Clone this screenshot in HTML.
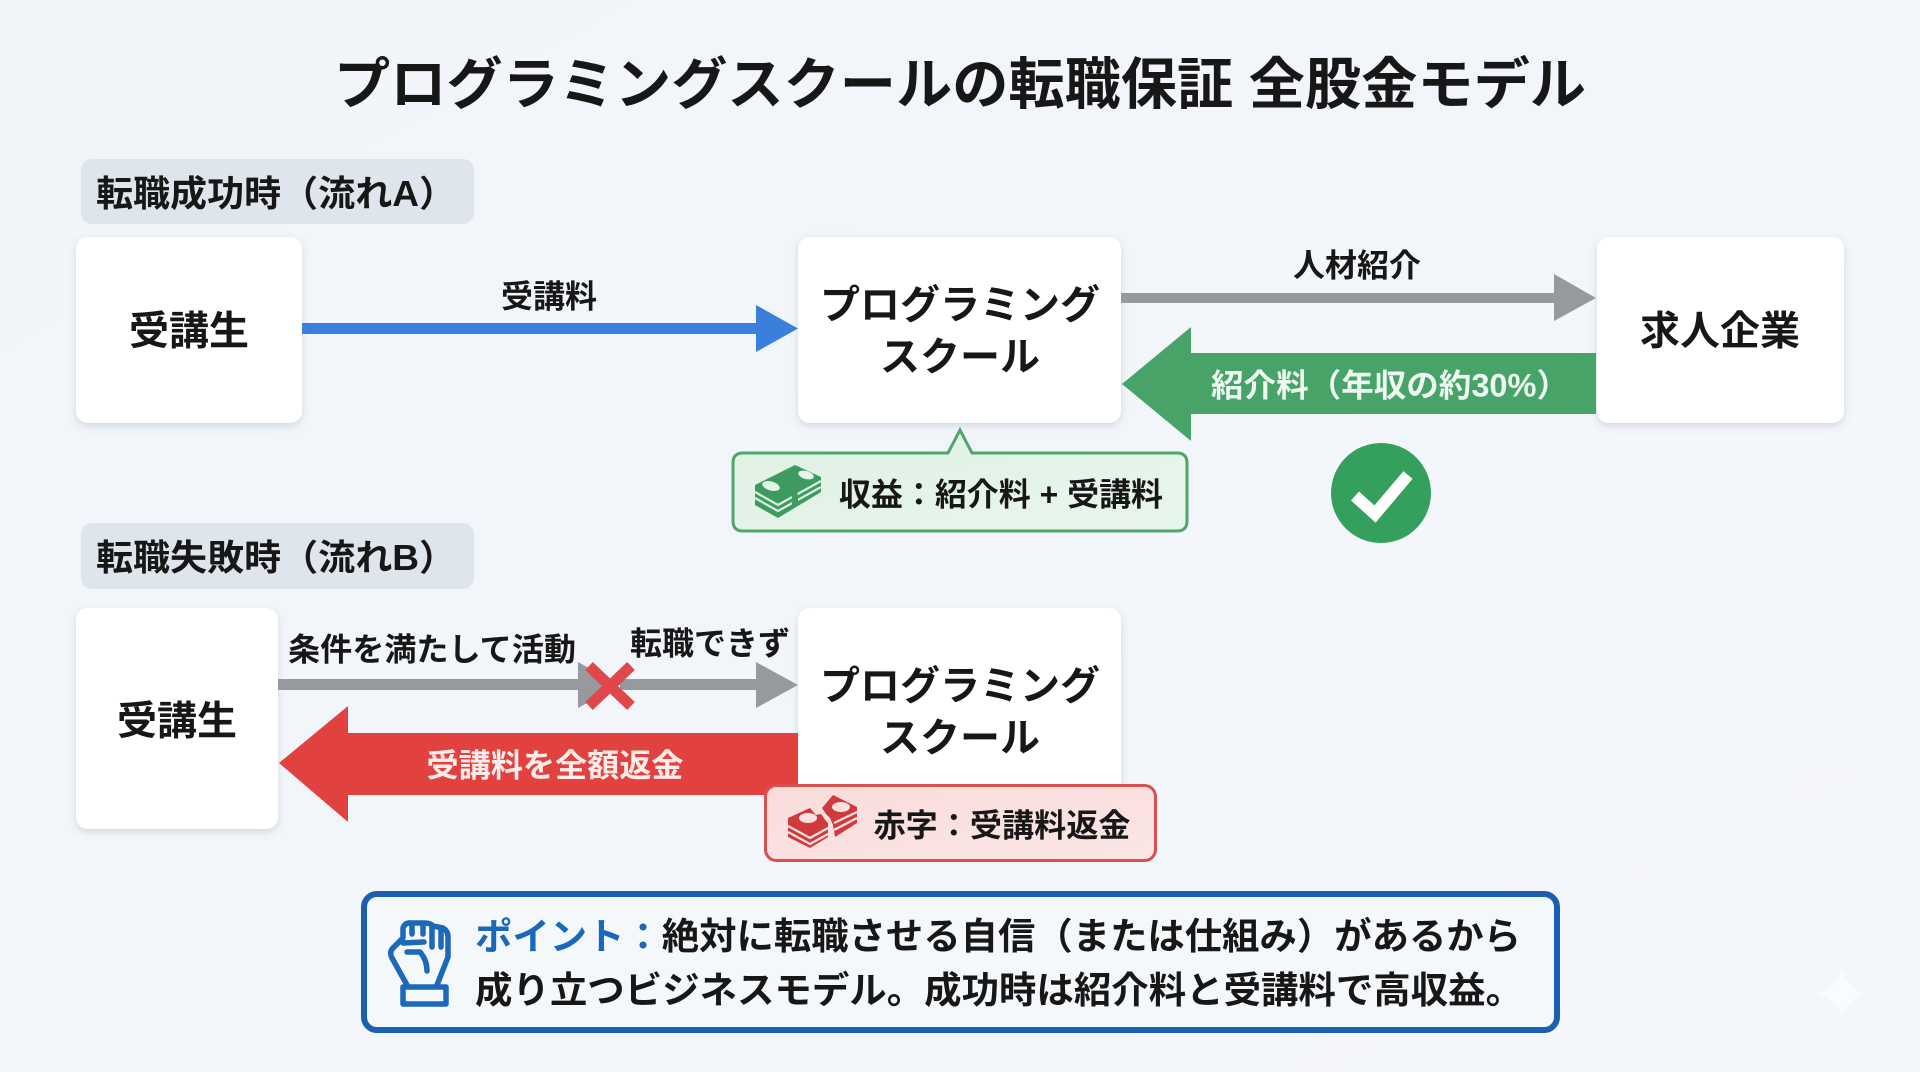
<!DOCTYPE html>
<html lang="ja"><head><meta charset="utf-8"><title>転職保証 全股金モデル</title>
<style>
html,body{margin:0;padding:0;width:1920px;height:1072px;overflow:hidden;background:#f2f6fa}
svg{display:block}
text{font-family:"Liberation Sans","Noto Sans CJK JP",sans-serif;font-weight:700;fill:#171717;text-anchor:middle;dominant-baseline:central;transform:translateY(1.5px)}
</style></head><body>
<svg width="1920" height="1072" viewBox="0 0 1920 1072" xmlns="http://www.w3.org/2000/svg">
<defs>
<linearGradient id="bg" x1="0" y1="0" x2="1" y2="1"><stop offset="0" stop-color="#f1f5fa"/><stop offset="1" stop-color="#f4f7fa"/></linearGradient>
<filter id="sh" x="-10%" y="-10%" width="120%" height="125%"><feDropShadow dx="0" dy="3" stdDeviation="4" flood-color="#5a6a80" flood-opacity=".22"/></filter>
<linearGradient id="gf" x1="0" y1="0" x2="1" y2="1"><stop offset="0" stop-color="#dff1e3"/><stop offset="1" stop-color="#e9f5ec"/></linearGradient>
<linearGradient id="rf" x1="0" y1="0" x2="1" y2="1"><stop offset="0" stop-color="#f9dcdb"/><stop offset="1" stop-color="#fbe6e5"/></linearGradient>
</defs>
<rect width="1920" height="1072" fill="url(#bg)"/>

<text x="960" y="83" font-size="56" textLength="1252" lengthAdjust="spacingAndGlyphs">プログラミングスクールの転職保証 全股金モデル</text>

<!-- Section labels -->
<rect x="81" y="159" width="393" height="65" rx="11" fill="#dfe5ec"/>
<text x="276" y="192" font-size="36" fill="#222" textLength="360" lengthAdjust="spacingAndGlyphs">転職成功時（流れA）</text>
<rect x="81" y="523" width="393" height="66" rx="11" fill="#dfe5ec"/>
<text x="276" y="556" font-size="36" textLength="360" lengthAdjust="spacingAndGlyphs">転職失敗時（流れB）</text>

<!-- Flow A nodes -->
<rect x="76" y="237" width="226" height="186" rx="12" fill="#fff" filter="url(#sh)"/>
<rect x="798" y="237" width="323" height="186" rx="12" fill="#fff" filter="url(#sh)"/>
<rect x="1597" y="237" width="247" height="186" rx="12" fill="#fff" filter="url(#sh)"/>
<text x="189" y="330" font-size="40">受講生</text>
<text x="960" y="304" font-size="40">プログラミング</text>
<text x="960" y="356" font-size="40">スクール</text>
<text x="1720" y="330" font-size="40">求人企業</text>

<!-- Flow A arrows -->
<polygon points="302,323 756,323 756,305 798,328.5 756,352 756,334 302,334" fill="#3a7fdc"/>
<text x="549" y="295" font-size="32" textLength="96" lengthAdjust="spacingAndGlyphs">受講料</text>
<polygon points="1121,293 1554,293 1554,274 1596,298 1554,321 1554,303 1121,303" fill="#969a9e"/>
<text x="1357" y="264" font-size="32" textLength="128" lengthAdjust="spacingAndGlyphs">人材紹介</text>
<polygon points="1122,384 1191,327 1191,353 1596,353 1596,414 1191,414 1191,441" fill="#47a368"/>
<text x="1390" y="384" font-size="32" style="fill:#eef8f0" textLength="358" lengthAdjust="spacingAndGlyphs">紹介料（年収の約30%）</text>

<!-- Green callout -->
<path d="M743 453 H948 L960 430 L972 453 H1177 Q1187 453 1187 463 V521 Q1187 531 1177 531 H743 Q733 531 733 521 V463 Q733 453 743 453 Z" fill="url(#gf)" stroke="#4fa76c" stroke-width="3"/>
<polygon points="755,485 795,465 821,477 821,492 778,518 755,505" fill="#3e9b5f"/>
<g fill="none" stroke="#dff1e3" stroke-width="2.2">
<polyline points="755,492 778,505 821,481"/>
<polyline points="755,498 778,511 821,487"/>
</g>
<ellipse cx="771" cy="486" rx="9" ry="4.5" fill="#e4f4e8" transform="rotate(15 771 486)"/>
<ellipse cx="806" cy="475" rx="8" ry="4" fill="#e4f4e8" transform="rotate(15 806 475)"/>
<path d="M779 478 Q796 478 795 505" fill="none" stroke="#3e9b5f" stroke-width="6"/>
<text x="1001" y="493" font-size="32" textLength="324" lengthAdjust="spacingAndGlyphs">収益：紹介料 + 受講料</text>

<!-- Check -->
<circle cx="1381" cy="493" r="50" fill="#35a05d"/>
<polyline points="1355,496 1375,514 1408,475" fill="none" stroke="#fff" stroke-width="12"/>

<!-- Flow B nodes -->
<rect x="76" y="608" width="202" height="221" rx="12" fill="#fff" filter="url(#sh)"/>
<rect x="798" y="608" width="323" height="221" rx="12" fill="#fff" filter="url(#sh)"/>
<text x="177" y="720" font-size="40">受講生</text>
<text x="960" y="685" font-size="40">プログラミング</text>
<text x="960" y="737" font-size="40">スクール</text>

<!-- Flow B arrows -->
<polygon points="278,679 578,679 578,662 620,685 578,708 578,690 278,690" fill="#969a9e"/>
<polygon points="620,679 756,679 756,662 798,685 756,708 756,690 620,690" fill="#969a9e"/>
<path d="M589 666 L631 706 M631 666 L589 706" stroke="#e0474a" stroke-width="11" fill="none"/>
<text x="432" y="648" font-size="32" textLength="288" lengthAdjust="spacingAndGlyphs">条件を満たして活動</text>
<text x="710" y="642" font-size="32" textLength="160" lengthAdjust="spacingAndGlyphs">転職できず</text>
<polygon points="279,763 348,706 348,733 798,733 798,795 348,795 348,822" fill="#e2423f"/>
<text x="555" y="764" font-size="32" style="fill:#fdecea" textLength="257" lengthAdjust="spacingAndGlyphs">受講料を全額返金</text>

<!-- Red callout -->
<rect x="765.5" y="785.5" width="390" height="75" rx="11" fill="url(#rf)" stroke="#d9504f" stroke-width="3"/>
<polygon points="788,818 810,808 816,815 821,814 826,821 828,823 828,837 810,848 788,837" fill="#cf3a3c"/>
<polygon points="822,808 833,795 857,807 857,823 835,837 833,825 830,818 826,814" fill="#cf3a3c"/>
<g fill="none" stroke="#fbe1e0" stroke-width="2.2">
<polyline points="788,826 810,838 828,828"/>
<polyline points="788,832 810,844 828,834"/>
<polyline points="834,823 857,812"/>
<polyline points="834,830 857,818"/>
</g>
<ellipse cx="808" cy="818" rx="9" ry="5" fill="#fbe1e0"/>
<ellipse cx="841" cy="807" rx="9" ry="5" fill="#fbe1e0"/>
<text x="1002" y="824" font-size="32" textLength="257" lengthAdjust="spacingAndGlyphs">赤字：受講料返金</text>

<!-- Point box -->
<rect x="364" y="894" width="1193" height="136" rx="13" fill="#f5f8fb" stroke="#1a5fb0" stroke-width="6"/>
<g fill="none" stroke="#1d68b8" stroke-width="5.5" stroke-linejoin="round" stroke-linecap="round">
<rect x="403" y="987" width="43" height="17"/>
<path d="M407 985 L392 958 Q389 952 393 948 L403 938 L403 928 Q405 922 412 923 L424 923 Q431 923 433 926 L443 928 Q448 931 448 937 L448 957 L437 985"/>
<path d="M412 925 V934 M423 925 V934 M432 927 V947 M441 930 V947"/>
<path d="M403 943 L424 942 M407 952 L420 952 Q427 960 427 971"/>
</g>
<text x="998" y="935" font-size="37" textLength="1046" lengthAdjust="spacingAndGlyphs"><tspan style="fill:#1a68bb">ポイント：</tspan>絶対に転職させる自信（または仕組み）があるから</text>
<text x="999" y="989" font-size="37" textLength="1048" lengthAdjust="spacingAndGlyphs">成り立つビジネスモデル。成功時は紹介料と受講料で高収益。</text>

<!-- Faint sparkle -->
<path d="M1842 968 Q1846 990 1868 994 Q1846 998 1842 1020 Q1838 998 1816 994 Q1838 990 1842 968 Z" fill="#fff" opacity=".5"/>
</svg>
</body></html>
